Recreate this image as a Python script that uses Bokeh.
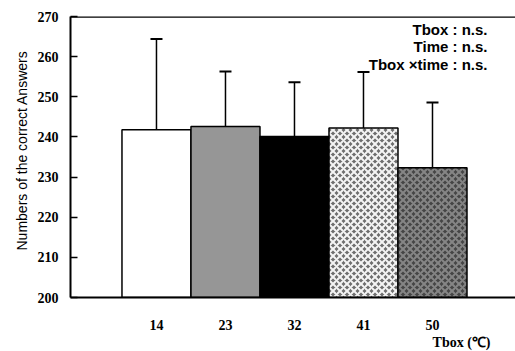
import numpy as np
from bokeh.plotting import figure
from bokeh.models import (ColumnDataSource, Range1d, FixedTicker, Whisker, TeeHead,
                          Span, Label, Title)
from bokeh.embed import file_html
from bokeh.resources import INLINE

# ---- data ----
categories = ["14", "23", "32", "41", "50"]
means = [241.8, 242.6, 240.1, 242.2, 232.3]
sds = [22.6, 13.7, 13.5, 14.0, 16.3]
y_ticks = [200, 210, 220, 230, 240, 250, 260, 270]
stats_lines = ["Tbox : n.s.", "Time : n.s.", "Tbox \u00d7time : n.s."]
x_title = "Tbox (\u2103)"
y_title = "Numbers of the correct Answers"

fills = ["#ffffff", "#969696", "#000000", "#6e6e6e", "#454545"]
hatches = [" ", " ", " ", "diagonal_cross", "diagonal_cross"]
hatch_colors = ["#ffffff", "#ffffff", "#ffffff", "#f4f4f4", "#858585"]

xpos = np.arange(1, len(categories) + 1)
src = ColumnDataSource(dict(
    x=xpos, top=means, upper=np.array(means) + np.array(sds), lower=means,
    fill=fills, hatch=hatches, hcol=hatch_colors))

p = figure(width=515, height=351, output_backend="svg", toolbar_location=None,
           x_range=Range1d(-0.246, 6.203), y_range=Range1d(200, 270),
           min_border_left=70, min_border_right=0, min_border_top=16,
           min_border_bottom=54)
p.outline_line_color = None
p.grid.visible = False
p.background_fill_color = "white"

p.vbar(x="x", top="top", bottom=200, width=1.0, source=src,
       fill_color="fill", line_color="black", line_width=1.5,
       hatch_pattern="hatch", hatch_color="hcol", hatch_scale=7, hatch_weight=2.0)

w = Whisker(base="x", upper="upper", lower="lower", source=src,
            line_color="black", line_width=1.5,
            upper_head=TeeHead(size=12, line_width=2, line_color="black"),
            lower_head=None)
p.add_layout(w)

p.add_layout(Span(location=270, dimension="width", line_color="black", line_width=2.5))

# y axis
ya = p.yaxis[0]
ya.ticker = FixedTicker(ticks=y_ticks)
ya.axis_line_width = 2
ya.major_tick_in = 7
ya.major_tick_out = 0
ya.major_tick_line_width = 1.5
ya.minor_tick_line_color = None
ya.major_label_standoff = 12
ya.major_label_text_font = "Liberation Serif"
ya.major_label_text_font_style = "bold"
ya.major_label_text_font_size = "14px"
ya.major_label_text_color = "black"

# x axis
xa = p.xaxis[0]
xa.ticker = FixedTicker(ticks=list(xpos))
xa.major_label_overrides = {int(i): c for i, c in zip(xpos, categories)}
xa.axis_line_width = 2
xa.major_tick_line_color = None
xa.minor_tick_line_color = None
xa.major_label_standoff = 16
xa.major_label_text_font = "Liberation Serif"
xa.major_label_text_font_style = "bold"
xa.major_label_text_font_size = "14px"
xa.major_label_text_color = "black"

# titles
p.add_layout(Title(text=x_title, align="right", offset=25, standoff=0,
                   text_font="Liberation Serif", text_font_style="bold",
                   text_font_size="14px", text_color="black"), "below")
p.add_layout(Title(text=y_title, align="left", offset=47, standoff=9,
                   text_font="Liberation Sans", text_font_style="normal",
                   text_font_size="14px", text_color="black"), "left")

for t, yy in zip(stats_lines, [266.75, 262.6, 258.0]):
    p.add_layout(Label(x=5.797, y=yy, text=t, text_align="right", text_baseline="middle",
                       text_font="Liberation Sans", text_font_style="bold",
                       text_font_size="15px", text_color="black"))

open("out.html", "w").write(file_html(p, INLINE))
